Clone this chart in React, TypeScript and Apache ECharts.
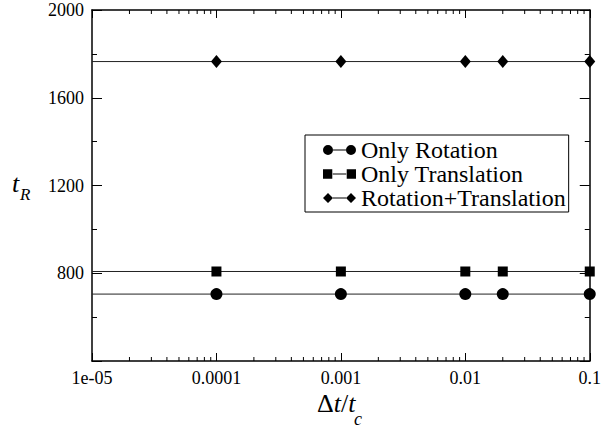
import React, { useEffect, useRef } from "react";
import * as echarts from "echarts";

const xValues = [1e-5, 1e-4, 1e-3, 1e-2, 2e-2, 1e-1];
const showMarker = [false, true, true, true, true, true];
const onlyRotation = [705, 705, 705, 705, 705, 705];
const onlyTranslation = [808, 808, 808, 808, 808, 808];
const rotationTranslation = [1765, 1765, 1765, 1765, 1765, 1765];
const seriesNames = ["Only Rotation", "Only Translation", "Rotation+Translation"];
const yTicks = [400, 800, 1200, 1600, 2000];

const decades = [1e-5, 1e-4, 1e-3, 1e-2];
const multipliers = [2, 3, 4, 5, 6, 7, 8, 9];

const FONT = "Liberation Serif";

const bar = "M10,4.4L23,4.4L23,5.6L10,5.6Z";
const iconCircle =
  "path://M0,5A5,5,0,1,1,10,5A5,5,0,1,1,0,5Z" + bar + "M23,5A5,5,0,1,1,33,5A5,5,0,1,1,23,5Z";
const iconSquare = "path://M0.5,0.5L9.5,0.5L9.5,9.5L0.5,9.5Z" + bar + "M23.5,0.5L32.5,0.5L32.5,9.5L23.5,9.5Z";
const iconDiamond = "path://M0,5L5,0L10,5L5,10Z" + bar + "M23,5L28,0L33,5L28,10Z";

export default function App() {
  const ref = useRef<HTMLDivElement>(null);
  useEffect(() => {
    document.body.style.margin = "0";
    if (!ref.current) return;
    const chart = echarts.init(ref.current, null, { renderer: "svg" });
    const minorTicks: number[][] = [];
    decades.forEach((d) => multipliers.forEach((m) => minorTicks.push([d * m, 400])));

    const mk = (vals: number[], symbol: string, size: any) =>
      vals.map((v, i) => ({
        value: [xValues[i], v],
        symbol: showMarker[i] ? symbol : "none",
        symbolSize: size,
      }));

    const lineStyle = { color: "#222", width: 1 };
    const axisLine = { show: true, lineStyle: { color: "#000", width: 1.5 } };

    chart.setOption({
      animation: false,
      backgroundColor: "#fff",
      grid: { left: 92, top: 10, right: 9, bottom: 70, containLabel: false },
      xAxis: [
        {
          type: "log",
          logBase: 10,
          min: 1e-5,
          max: 0.1,
          position: "bottom",
          axisLine,
          axisTick: { show: true, inside: true, length: 8, lineStyle: { color: "#000", width: 1 } },
          splitLine: { show: false },
          axisLabel: {
            show: true,
            margin: 8,
            fontSize: 18,
            fontFamily: FONT,
            color: "#000",
            showMinLabel: true,
            showMaxLabel: true,
            formatter: (v: number) => (v < 5e-5 ? "1e-05" : String(Number(v.toPrecision(3)))),
          },
        },
        {
          type: "log",
          logBase: 10,
          min: 1e-5,
          max: 0.1,
          position: "top",
          axisLine,
          axisTick: { show: true, inside: true, length: 8, lineStyle: { color: "#000", width: 1 } },
          splitLine: { show: false },
          axisLabel: { show: false },
        },
      ],
      yAxis: [
        {
          type: "value",
          min: 400,
          max: 2000,
          interval: 400,
          position: "left",
          axisLine,
          axisTick: { show: true, inside: true, length: 10, lineStyle: { color: "#000", width: 1 } },
          minorTick: { show: true, splitNumber: 2, length: 5, lineStyle: { color: "#000", width: 1 } },
          splitLine: { show: false },
          axisLabel: {
            margin: 8,
            fontSize: 18,
            fontFamily: FONT,
            color: "#000",
            formatter: (v: number) => (v === yTicks[0] ? "" : String(v)),
          },
        },
        {
          type: "value",
          min: 400,
          max: 2000,
          interval: 400,
          position: "right",
          axisLine,
          axisTick: { show: true, inside: true, length: 10, lineStyle: { color: "#000", width: 1 } },
          minorTick: { show: true, splitNumber: 2, length: 5, lineStyle: { color: "#000", width: 1 } },
          splitLine: { show: false },
          axisLabel: { show: false },
        },
      ],
      legend: {
        orient: "vertical",
        left: 305,
        top: 135,
        padding: [3, 3, 2, 18],
        itemWidth: 33,
        itemHeight: 10,
        itemGap: 0,
        borderColor: "#000",
        borderWidth: 1,
        backgroundColor: "#fff",
        textStyle: { fontSize: 24, lineHeight: 24, fontFamily: FONT, color: "#000" },
        data: [
          { name: seriesNames[0], icon: iconCircle },
          { name: seriesNames[1], icon: iconSquare },
          { name: seriesNames[2], icon: iconDiamond },
        ],
      },
      series: [
        {
          name: seriesNames[0],
          type: "line",
          data: mk(onlyRotation, "circle", 12),
          itemStyle: { color: "#000" },
          lineStyle,
          z: 3,
        },
        {
          name: seriesNames[1],
          type: "line",
          data: mk(onlyTranslation, "rect", 10),
          itemStyle: { color: "#000" },
          lineStyle,
          z: 3,
        },
        {
          name: seriesNames[2],
          type: "line",
          data: mk(rotationTranslation, "diamond", [11, 13]),
          itemStyle: { color: "#000" },
          lineStyle,
          z: 3,
        },
        {
          name: "minorTicks",
          type: "custom",
          data: minorTicks,
          silent: true,
          renderItem: (params: any, api: any) => {
            const x = api.value(0);
            const b = api.coord([x, 400]);
            const t = api.coord([x, 2000]);
            return {
              type: "group",
              children: [
                { type: "line", shape: { x1: b[0], y1: b[1], x2: b[0], y2: b[1] - 4 }, style: { stroke: "#000", lineWidth: 1 } },
                { type: "line", shape: { x1: t[0], y1: t[1], x2: t[0], y2: t[1] + 4 }, style: { stroke: "#000", lineWidth: 1 } },
              ],
            };
          },
        },
      ],
      graphic: [
        { type: "text", left: 12, top: 170, style: { text: "t", fontSize: 26, fontStyle: "italic", fontFamily: FONT, fill: "#000" } },
        { type: "text", left: 20, top: 186, style: { text: "R", fontSize: 17, fontStyle: "italic", fontFamily: FONT, fill: "#000" } },
        {
          type: "text",
          left: 317,
          top: 390,
          style: {
            text: "{d|Δ}{i|t}{s|/}{i|t}",
            rich: {
              d: { fontSize: 26, fontFamily: FONT, fill: "#000" },
              i: { fontSize: 26, fontStyle: "italic", fontFamily: FONT, fill: "#000" },
              s: { fontSize: 26, fontFamily: FONT, fill: "#000" },
            },
          },
        },
        { type: "text", left: 354, top: 410, style: { text: "c", fontSize: 18, fontStyle: "italic", fontFamily: FONT, fill: "#000" } },
      ],
    });
    return () => chart.dispose();
  }, []);
  return <div ref={ref} style={{ width: 604, height: 431 }} />;
}
